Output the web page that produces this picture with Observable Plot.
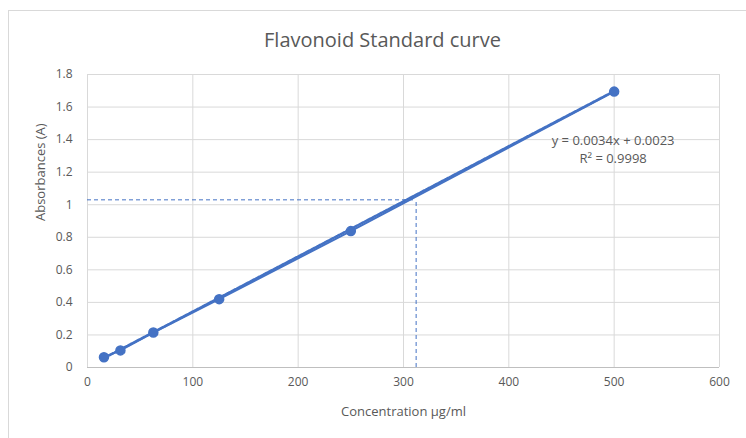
<!DOCTYPE html>
<html>
<head>
<meta charset="utf-8">
<script src="https://cdn.jsdelivr.net/npm/d3@7"></script>
<script src="https://cdn.jsdelivr.net/npm/@observablehq/plot@0.6"></script>
<style>
  html, body { margin: 0; padding: 0; background: #fff; }
  #wrap { position: relative; width: 746px; height: 438px; overflow: hidden; }
  #frame { position: absolute; left: 8px; top: 10px; width: 760px; height: 460px; border: 1px solid #d9d9d9; box-sizing: border-box; }
  #chart { position: absolute; left: 0; top: 0; }
</style>
</head>
<body>
<div id="wrap"><div id="frame"></div><div id="chart"></div></div>
<script>
const concentration = [15.625, 31.25, 62.5, 125, 250, 500];
const absorbance = [0.063, 0.105, 0.215, 0.42, 0.838, 1.695];
const trendX = [15.625, 500];
const trendY = [0.058, 1.698];
const readX = 312;
const readY = 1.03;
const xTicks = [0, 100, 200, 300, 400, 500, 600];
const yTicks = [0, 0.2, 0.4, 0.6, 0.8, 1, 1.2, 1.4, 1.6, 1.8];
const equationText = ["y = 0.0034x + 0.0023", "R\u00b2 = 0.9998"];
const title = "Flavonoid Standard curve";

const points = concentration.map((c, i) => ({x: c, y: absorbance[i]}));
const trend = trendX.map((x, i) => ({x, y: trendY[i]}));
const blue = "#4472c4";
const grey = "#595959";

const chart = Plot.plot({
  width: 746,
  height: 438,
  marginLeft: 87,
  marginRight: 27,
  marginTop: 74,
  marginBottom: 71,
  style: {fontFamily: "'Open Sans', 'Liberation Sans', sans-serif", fontSize: "12px", color: grey, background: "transparent"},
  x: {domain: [0, 600], ticks: xTicks, label: null},
  y: {domain: [0, 1.8], ticks: yTicks, label: null},
  marks: [
    Plot.gridX(xTicks, {stroke: "#d9d9d9", strokeOpacity: 1}),
    Plot.gridY(yTicks, {stroke: "#d9d9d9", strokeOpacity: 1}),
    Plot.ruleY([0], {stroke: "#bfbfbf"}),
    Plot.axisX(xTicks, {tickSize: 0, tickPadding: 10, fill: grey, fontSize: 12}),
    Plot.axisY(yTicks, {tickSize: 0, tickPadding: 15, fill: grey, fontSize: 12, tickFormat: d => String(+d.toFixed(1))}),
    Plot.text([title], {frameAnchor: "top", lineAnchor: "middle", dy: -34, dx: -21, fontSize: 20, fill: grey}),
    Plot.text(["Concentration \u00b5g/ml"], {frameAnchor: "bottom", lineAnchor: "middle", dy: 44, fontSize: 13, fill: grey}),
    Plot.text(["Absorbances (A)"], {frameAnchor: "left", rotate: -90, lineAnchor: "middle", dx: -47, fontSize: 13, fill: grey}),
    Plot.ruleY([readY], {x1: 0, x2: readX, stroke: blue, strokeWidth: 1, strokeDasharray: "4,3"}),
    Plot.ruleX([readX], {y1: 0, y2: readY, stroke: blue, strokeWidth: 1, strokeDasharray: "4,3"}),
    Plot.line(trend, {x: "x", y: "y", stroke: blue, strokeWidth: 2.5, strokeDasharray: "1.5,1.5"}),
    Plot.line(points, {x: "x", y: "y", stroke: blue, strokeWidth: 2}),
    Plot.dot(points, {x: "x", y: "y", r: 4.5, fill: blue, stroke: blue}),
    Plot.text([equationText[0]], {x: 499, y: 1.394, fontSize: 13, fill: grey}),
    Plot.text([equationText[1]], {x: 499, y: 1.284, fontSize: 13, fill: grey})
  ]
});
document.getElementById("chart").appendChild(chart);
</script>
</body>
</html>
